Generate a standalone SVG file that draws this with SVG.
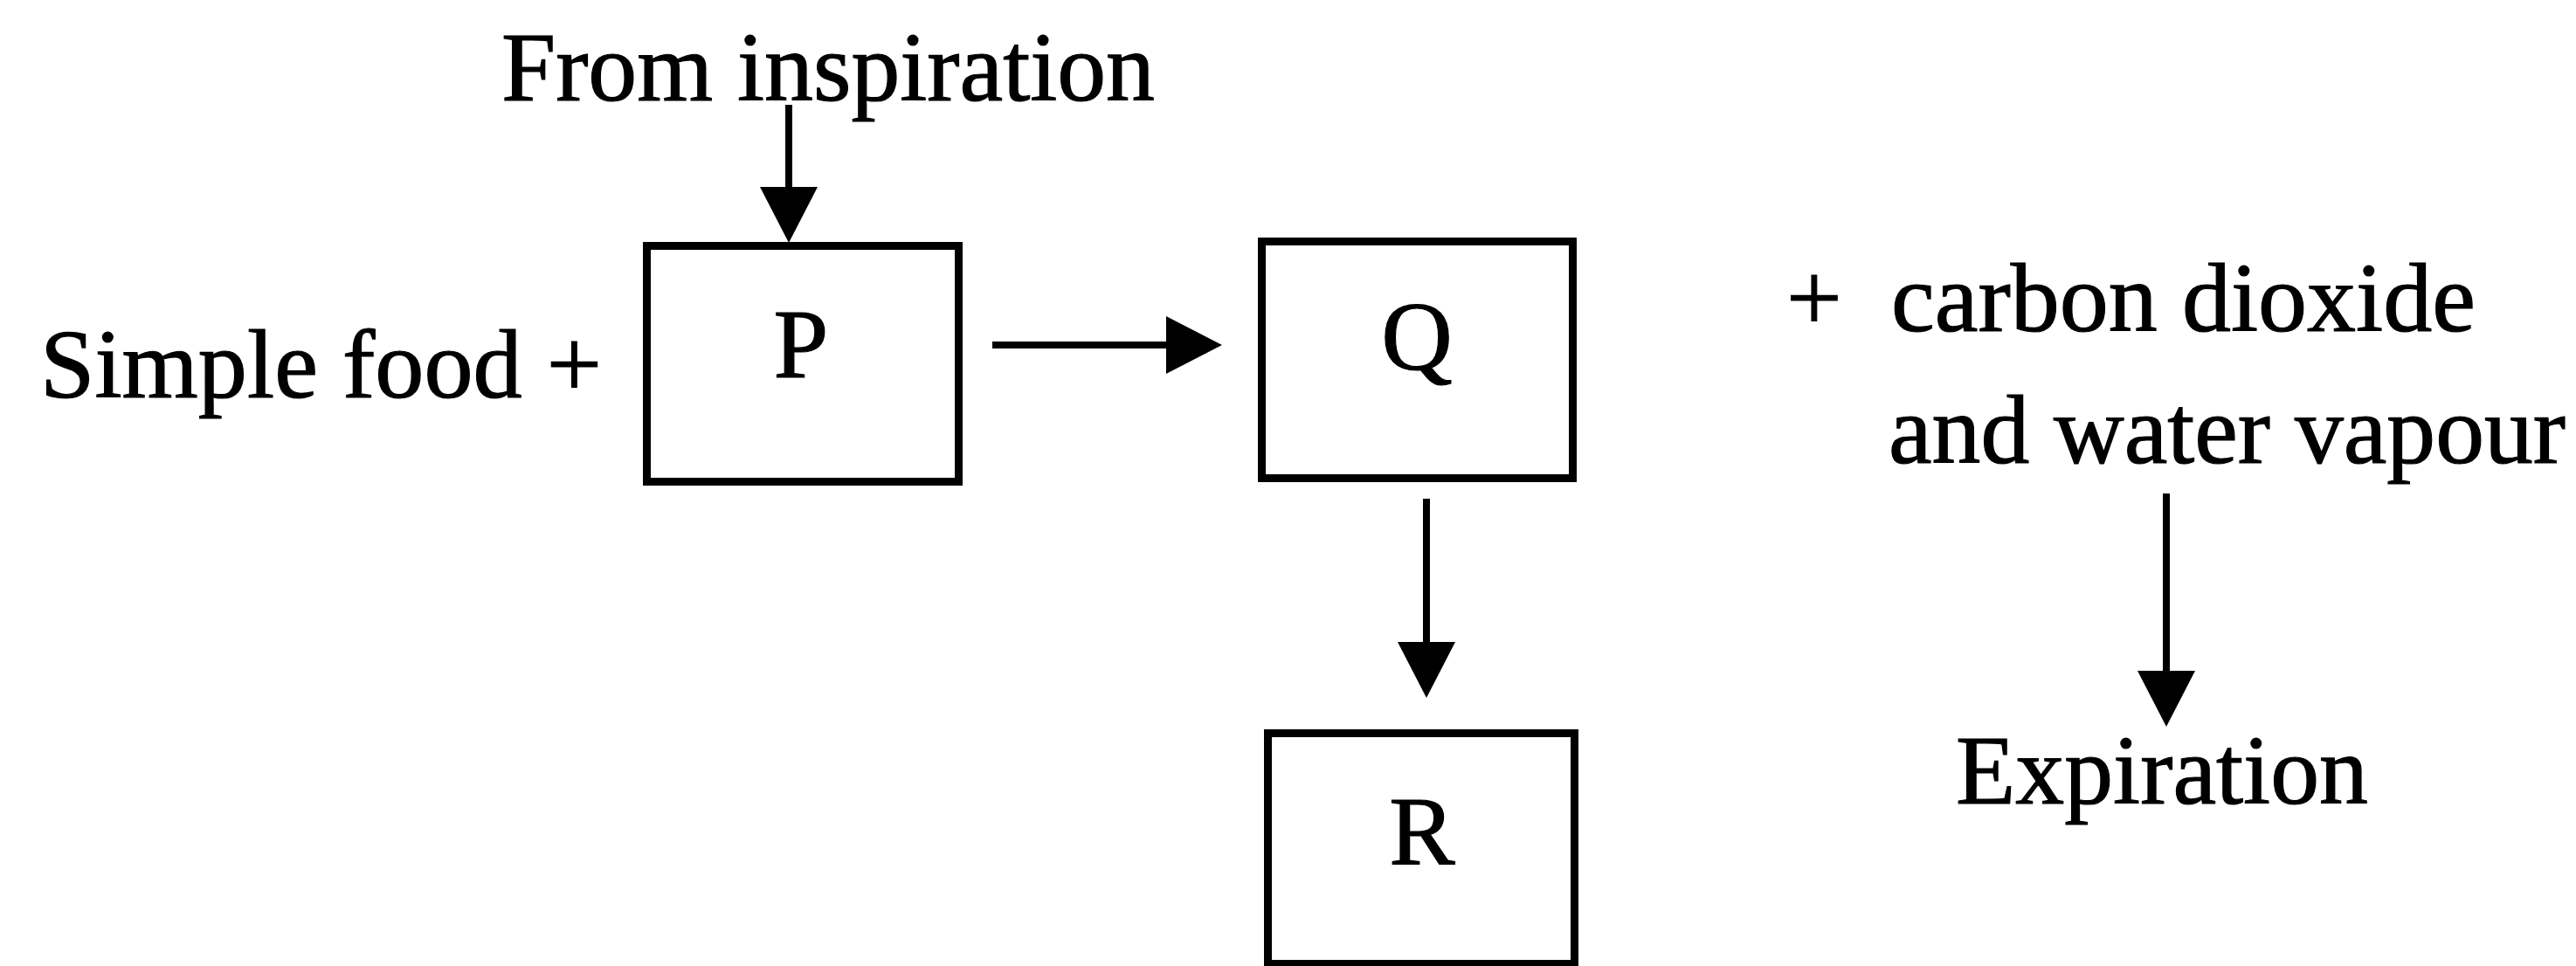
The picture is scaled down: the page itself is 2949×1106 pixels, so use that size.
<svg xmlns="http://www.w3.org/2000/svg" width="2949" height="1106" viewBox="0 0 2949 1106">
<style>
  text { font-family: "Liberation Serif", "Times New Roman", serif; font-size: 113px; fill: #000; stroke: #000; stroke-width: 1.2; }
  .box { fill: #fff; stroke: #000; stroke-width: 9; }
  .conn { stroke: #000; stroke-width: 8; fill: none; marker-end: url(#head); }
  .mid { text-anchor: middle; }
</style>
<defs>
  <marker id="head" markerUnits="userSpaceOnUse" viewBox="0 0 64 66" refX="0" refY="33" markerWidth="64" markerHeight="66" orient="auto">
    <path d="M0,0 L64,33 L0,66 Z" fill="#000"/>
  </marker>
</defs>
<rect width="2949" height="1106" fill="#fff"/>

<g id="label-from-inspiration">
  <text x="574" y="115" textLength="748" lengthAdjust="spacingAndGlyphs">From inspiration</text>
</g>
<g id="label-simple-food">
  <text x="46" y="455" textLength="643" lengthAdjust="spacingAndGlyphs">Simple food +</text>
</g>
<g id="node-P">
  <rect class="box" x="740.5" y="281.5" width="357" height="270"/>
  <text class="mid" x="917" y="432">P</text>
</g>
<g id="node-Q">
  <rect class="box" x="1444.5" y="276.5" width="356" height="271"/>
  <text class="mid" x="1622" y="423">Q</text>
</g>
<g id="node-R">
  <rect class="box" x="1451.5" y="839.5" width="351" height="264"/>
  <text class="mid" x="1628" y="989">R</text>
</g>
<g id="label-products">
  <text x="2045" y="379">+</text>
  <text x="2165" y="379" textLength="669" lengthAdjust="spacingAndGlyphs">carbon dioxide</text>
  <text x="2162" y="530" textLength="775" lengthAdjust="spacingAndGlyphs">and water vapour</text>
</g>
<g id="label-expiration">
  <text x="2239" y="920" textLength="472" lengthAdjust="spacingAndGlyphs">Expiration</text>
</g>

<g id="connectors">
  <line class="conn" x1="903" y1="120" x2="903" y2="214"/>
  <line class="conn" x1="1136" y1="395" x2="1335" y2="395"/>
  <line class="conn" x1="1633" y1="571" x2="1633" y2="735"/>
  <line class="conn" x1="2480" y1="565" x2="2480" y2="768"/>
</g>
</svg>
